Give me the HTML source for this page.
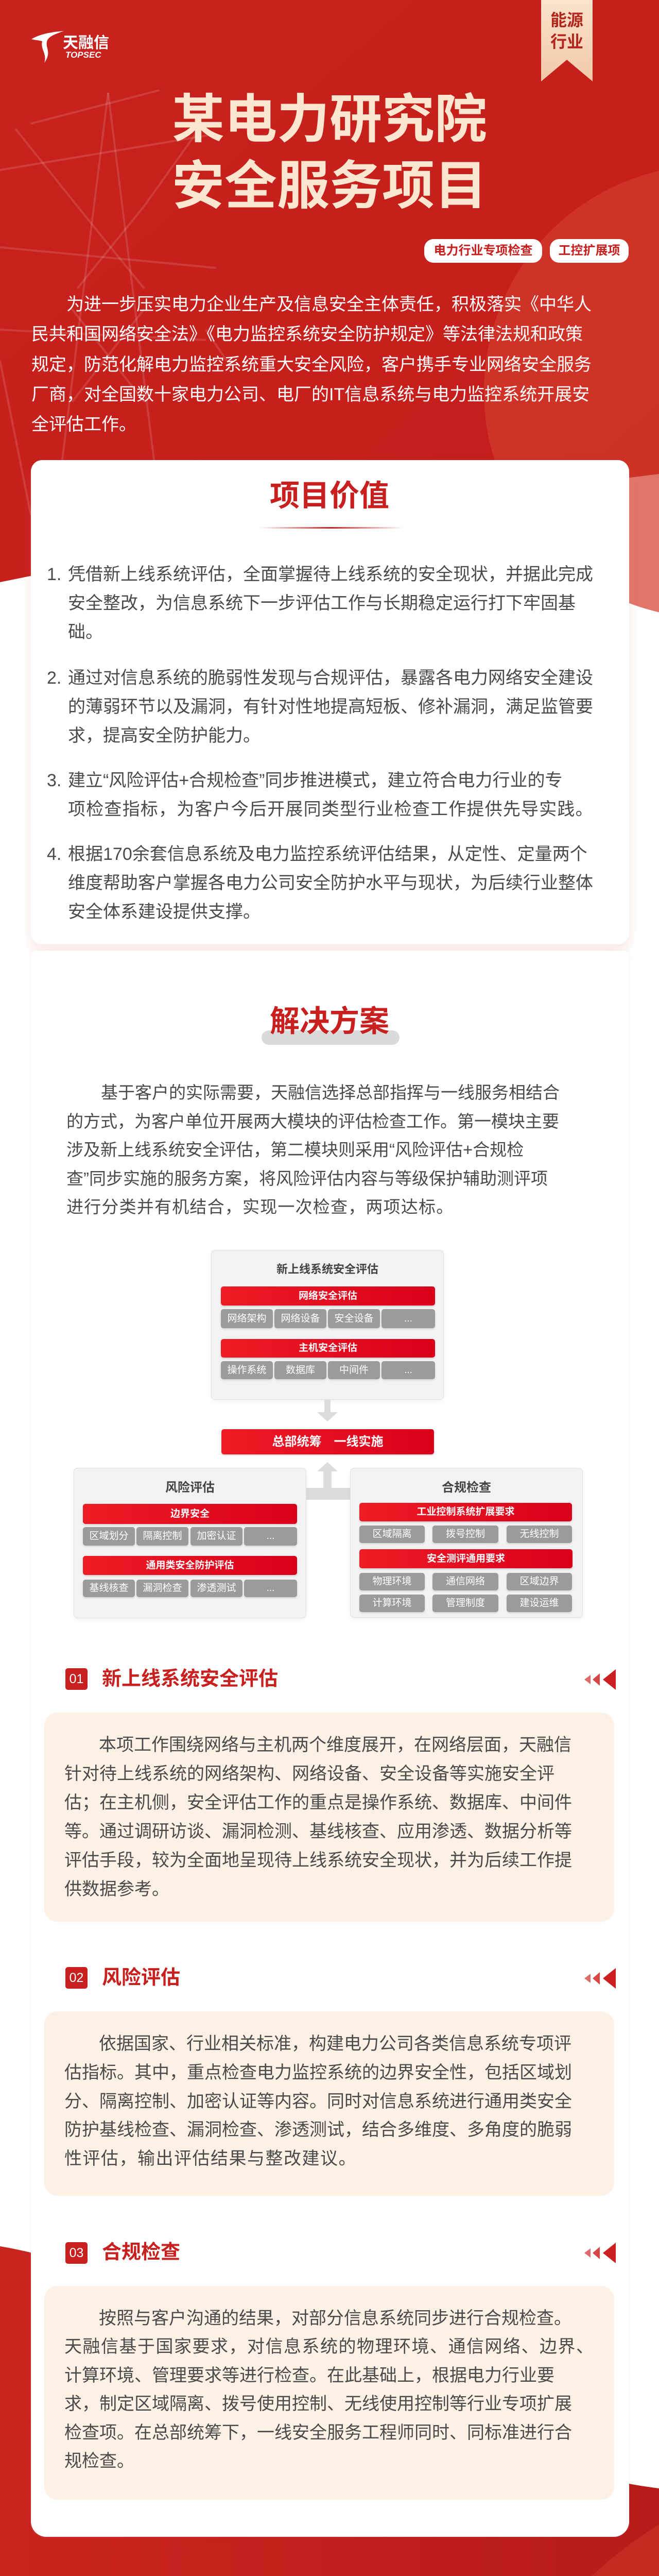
<!DOCTYPE html>
<html><head><meta charset="utf-8">
<style>
*{margin:0;padding:0;box-sizing:border-box}
body{width:1280px;height:5218px;position:relative;overflow:hidden;background:#fff;font-family:"Liberation Sans","Noto Sans CJK SC",sans-serif}
.a{position:absolute}
.ln{white-space:nowrap}
.j{text-align:justify;text-align-last:justify;white-space:nowrap;display:flex;justify-content:space-between}
.j span{display:inline-block}
.card{position:absolute;background:#fff;border-radius:22px}
.h2{font-weight:bold;color:#c8201f}
.badge{position:absolute;width:43px;height:42px;background:#c8201f;border-radius:5px;color:#fff;font-size:25px;text-align:center;line-height:42px}
.st{position:absolute;left:198px;font-size:38px;font-weight:bold;color:#c8201f;line-height:50px}
.box{position:absolute;left:86px;width:1107px;background:#fdf0e5;border-radius:26px}
.txt{position:absolute;left:125px;width:1024px;font-size:34px;color:#4a4a4a}
.dg{position:absolute;background:#f2f2f2;border:1px solid #e2e2e2;border-radius:8px;box-shadow:0 3px 8px rgba(0,0,0,0.06)}
.dt{position:absolute;font-size:22px;font-weight:bold;color:#444;text-align:center}
.rb{position:absolute;background:linear-gradient(90deg,#ee1c25,#d9001b);border-radius:5px;color:#fff;font-size:19px;font-weight:bold;text-align:center;box-shadow:0 2px 3px rgba(0,0,0,0.15)}
.gb{position:absolute;background:#9b9b9b;border-radius:5px;color:#fff;font-size:19px;text-align:center;box-shadow:0 2px 3px rgba(0,0,0,0.12)}
</style></head><body>

<svg class="a" style="left:0;top:0" width="1280" height="5218">
<defs>
<linearGradient id="rg" x1="0" y1="0" x2="1" y2="1"><stop offset="0" stop-color="#c8221e"/><stop offset="1" stop-color="#c41d1b"/></linearGradient>
<linearGradient id="rg2" x1="0" y1="0" x2="1" y2="0"><stop offset="0" stop-color="#c9251f"/><stop offset="1" stop-color="#b81b19"/></linearGradient>
</defs>
<polygon points="0,0 1280,0 1280,920 640,1000 0,1130" fill="url(#rg)"/>
<circle cx="1380" cy="760" r="440" fill="#d33a2b" opacity="0.7"/>
<g stroke="#ffffff" stroke-opacity="0.13" stroke-width="4" fill="none">
<line x1="210" y1="180" x2="120" y2="900"/><line x1="210" y1="180" x2="300" y2="900"/>
<line x1="60" y1="240" x2="310" y2="175"/><line x1="0" y1="330" x2="420" y2="260"/>
<line x1="0" y1="480" x2="420" y2="520"/><line x1="0" y1="640" x2="400" y2="660"/>
<line x1="150" y1="400" x2="280" y2="560"/><line x1="280" y1="400" x2="150" y2="560"/>
<line x1="140" y1="600" x2="280" y2="780"/><line x1="280" y1="600" x2="140" y2="780"/>
<line x1="30" y1="250" x2="150" y2="400"/><line x1="380" y1="260" x2="280" y2="400"/>
<line x1="0" y1="700" x2="60" y2="1000"/><line x1="400" y1="640" x2="440" y2="700"/>
</g>
<path d="M0,4360 C120,4380 300,4440 520,4560 C760,4690 1050,4800 1280,4830 L1280,5218 L0,5218 Z" fill="url(#rg2)"/>
<path d="M1280,4900 C1150,4980 1040,5100 990,5218 L1280,5218 Z" fill="#d0382b" opacity="0.5"/>
</svg>

<svg class="a" style="left:56px;top:56px" width="75" height="70"><path d="M5,20 C25,8 50,6 68,4 C52,10 40,14 36,22 C30,36 46,44 30,66 C36,48 22,40 26,24 C20,22 12,22 5,20 Z" fill="#fff"/></svg>
<div class="a" style="left:122px;top:66px;font-size:30px;font-weight:bold;color:#fff;line-height:36px">天融信</div>
<div class="a" style="left:127px;top:97px;font-size:17px;font-weight:bold;font-style:italic;color:#fff;line-height:20px">TOPSEC</div>

<svg class="a" style="left:1051px;top:0" width="100" height="160"><defs><linearGradient id="bg" x1="0" y1="0" x2="0" y2="1"><stop offset="0" stop-color="#fbe3cc"/><stop offset="1" stop-color="#f2c9a8"/></linearGradient></defs><polygon points="0,0 100,0 100,158 50,116 0,158" fill="url(#bg)"/></svg>
<div class="a" style="left:1051px;top:18px;width:100px;text-align:center;font-size:32px;font-weight:bold;color:#b3261e;line-height:42px">能源<br>行业</div>

<div class="a" style="left:0;top:168px;width:1280px;text-align:center;font-size:102px;font-weight:bold;color:#fde6cf;line-height:129px">某电力研究院<br>安全服务项目</div>

<div class="a" style="left:824px;top:464px;width:229px;height:46px;background:#fff;border-radius:18px;color:#c8201f;font-size:24px;font-weight:bold;text-align:center;line-height:46px">电力行业专项检查</div>
<div class="a" style="left:1068px;top:464px;width:153px;height:46px;background:#fff;border-radius:18px;color:#c8201f;font-size:24px;font-weight:bold;text-align:center;line-height:46px">工控扩展项</div>

<div class="a" style="left:61px;top:562px;width:1159px;font-size:34px;color:#fff;line-height:58.25px">
<div class="j" style="padding-left:68px">为进一步压实电力企业生产及信息安全主体责任，积极落实《中华人</div>
<div class="j">民共和国网络安全法》《电力监控系统安全防护规定》等法律法规和政策</div>
<div class="j">规定，防范化解电力监控系统重大安全风险，客户携手专业网络安全服务</div>
<div class="j">厂商，对全国数十家电力公司、电厂的IT信息系统与电力监控系统开展安</div>
<div class="ln">全评估工作。</div>
</div>

<div class="card" style="left:60px;top:893px;width:1162px;height:940px;box-shadow:0 14px 24px rgba(220,120,110,0.18)"></div>
<div class="a h2" style="left:0;top:925px;width:1280px;text-align:center;font-size:58px;line-height:76px">项目价值</div>
<div class="a" style="left:502px;top:1023px;width:282px;height:3px;background:linear-gradient(90deg,rgba(200,32,31,0),#c8201f 50%,rgba(200,32,31,0))"></div>

<div class="a" style="left:91px;width:1094px;font-size:34px;color:#4a4a4a;line-height:56px;top:1087px">
<div class="a" style="left:0;top:0">1.</div>
<div class="a" style="left:41px;top:0;width:1053px"><div class="j">凭借新上线系统评估，全面掌握待上线系统的安全现状，并据此完成</div><div class="j">安全整改，为信息系统下一步评估工作与长期稳定运行打下牢固基</div><div class="ln">础。</div></div>
</div>
<div class="a" style="left:91px;width:1094px;font-size:34px;color:#4a4a4a;line-height:56px;top:1288px">
<div class="a" style="left:0;top:0">2.</div>
<div class="a" style="left:41px;top:0;width:1053px"><div class="j">通过对信息系统的脆弱性发现与合规评估，暴露各电力网络安全建设</div><div class="j">的薄弱环节以及漏洞，有针对性地提高短板、修补漏洞，满足监管要</div><div class="ln">求，提高安全防护能力。</div></div>
</div>
<div class="a" style="left:91px;width:1094px;font-size:34px;color:#4a4a4a;line-height:56px;top:1487px">
<div class="a" style="left:0;top:0">3.</div>
<div class="a" style="left:41px;top:0;width:1053px"><div class="j">建立“风险评估+合规检查”同步推进模式，建立符合电力行业的专</div><div class="ln" style="letter-spacing:1.2px">项检查指标，为客户今后开展同类型行业检查工作提供先导实践。</div></div>
</div>
<div class="a" style="left:91px;width:1094px;font-size:34px;color:#4a4a4a;line-height:56px;top:1630px">
<div class="a" style="left:0;top:0">4.</div>
<div class="a" style="left:41px;top:0;width:1053px"><div class="j">根据170余套信息系统及电力监控系统评估结果，从定性、定量两个</div><div class="j">维度帮助客户掌握各电力公司安全防护水平与现状，为后续行业整体</div><div class="ln">安全体系建设提供支撑。</div></div>
</div>

<div class="card" style="left:60px;top:1845px;width:1162px;height:3079px;border-radius:10px 10px 30px 30px;box-shadow:0 0 6px rgba(230,150,140,0.15)"></div>
<div class="a" style="left:508px;top:2000px;width:268px;height:28px;background:#dadada;border-radius:14px"></div>
<div class="a h2" style="left:0;top:1948px;width:1280px;text-align:center;font-size:58px;line-height:70px">解决方案</div>

<div class="a" style="left:129px;top:2093px;width:1022px;font-size:33px;color:#4a4a4a;line-height:55.5px">
<div class="j" style="padding-left:67px">基于客户的实际需要，天融信选择总部指挥与一线服务相结合</div>
<div class="j">的方式，为客户单位开展两大模块的评估检查工作。第一模块主要</div>
<div class="j">涉及新上线系统安全评估，第二模块则采用“风险评估+合规检</div>
<div class="j">查”同步实施的服务方案，将风险评估内容与等级保护辅助测评项</div>
<div class="ln" style="letter-spacing:1.2px">进行分类并有机结合，实现一次检查，两项达标。</div>
</div>

<div class="dg" style="left:410px;top:2426px;width:452px;height:291px"></div>
<div class="dt" style="left:410px;top:2450px;width:452px;line-height:28px">新上线系统安全评估</div>
<div class="rb" style="left:429px;top:2497px;width:416px;height:37px;line-height:37px">网络安全评估</div>
<div class="gb" style="left:429px;top:2541px;width:101px;height:37px;line-height:37px">网络架构</div>
<div class="gb" style="left:533px;top:2541px;width:101px;height:37px;line-height:37px">网络设备</div>
<div class="gb" style="left:637px;top:2541px;width:101px;height:37px;line-height:37px">安全设备</div>
<div class="gb" style="left:741px;top:2541px;width:104px;height:37px;line-height:37px">...</div>
<div class="rb" style="left:429px;top:2599px;width:416px;height:36px;line-height:36px">主机安全评估</div>
<div class="gb" style="left:429px;top:2642px;width:101px;height:35px;line-height:35px">操作系统</div>
<div class="gb" style="left:533px;top:2642px;width:101px;height:35px;line-height:35px">数据库</div>
<div class="gb" style="left:637px;top:2642px;width:101px;height:35px;line-height:35px">中间件</div>
<div class="gb" style="left:741px;top:2642px;width:104px;height:35px;line-height:35px">...</div>

<svg class="a" style="left:600px;top:2717px" width="72" height="44"><polygon points="30,0 42,0 42,24 56,24 36,42 16,24 30,24" fill="#dcdcdc"/></svg>
<div class="rb" style="left:430px;top:2774px;width:413px;height:49px;line-height:49px;font-size:24px">总部统筹　一线实施</div>
<svg class="a" style="left:590px;top:2836px" width="95" height="80"><polygon points="46,2 66,20 54,20 54,52 94,52 94,75 0,75 0,52 38,52 38,20 26,20" fill="#dcdcdc"/></svg>

<div class="dg" style="left:143px;top:2849px;width:452px;height:292px"></div>
<div class="dt" style="left:143px;top:2873px;width:452px;line-height:30px;font-size:24px">风险评估</div>
<div class="rb" style="left:161px;top:2919px;width:416px;height:39px;line-height:39px">边界安全</div>
<div class="gb" style="left:161px;top:2964px;width:101px;height:36px;line-height:36px">区域划分</div>
<div class="gb" style="left:265px;top:2964px;width:101px;height:36px;line-height:36px">隔离控制</div>
<div class="gb" style="left:370px;top:2964px;width:101px;height:36px;line-height:36px">加密认证</div>
<div class="gb" style="left:474px;top:2964px;width:103px;height:36px;line-height:36px">...</div>
<div class="rb" style="left:161px;top:3020px;width:416px;height:37px;line-height:37px">通用类安全防护评估</div>
<div class="gb" style="left:161px;top:3066px;width:101px;height:34px;line-height:34px">基线核查</div>
<div class="gb" style="left:265px;top:3066px;width:101px;height:34px;line-height:34px">漏洞检查</div>
<div class="gb" style="left:370px;top:3066px;width:101px;height:34px;line-height:34px">渗透测试</div>
<div class="gb" style="left:474px;top:3066px;width:103px;height:34px;line-height:34px">...</div>

<div class="dg" style="left:680px;top:2849px;width:452px;height:291px"></div>
<div class="dt" style="left:680px;top:2873px;width:452px;line-height:30px;font-size:24px">合规检查</div>
<div class="rb" style="left:698px;top:2917px;width:413px;height:36px;line-height:36px">工业控制系统扩展要求</div>
<div class="gb" style="left:698px;top:2961px;width:127px;height:34px;line-height:34px">区域隔离</div>
<div class="gb" style="left:840px;top:2961px;width:128px;height:34px;line-height:34px">拨号控制</div>
<div class="gb" style="left:984px;top:2961px;width:127px;height:34px;line-height:34px">无线控制</div>
<div class="rb" style="left:698px;top:3007px;width:414px;height:37px;line-height:37px">安全测评通用要求</div>
<div class="gb" style="left:698px;top:3053px;width:127px;height:34px;line-height:34px">物理环境</div>
<div class="gb" style="left:840px;top:3053px;width:128px;height:34px;line-height:34px">通信网络</div>
<div class="gb" style="left:984px;top:3053px;width:127px;height:34px;line-height:34px">区域边界</div>
<div class="gb" style="left:698px;top:3095px;width:127px;height:34px;line-height:34px">计算环境</div>
<div class="gb" style="left:840px;top:3095px;width:128px;height:34px;line-height:34px">管理制度</div>
<div class="gb" style="left:984px;top:3095px;width:127px;height:34px;line-height:34px">建设运维</div>

<div class="badge" style="left:127px;top:3238px">01</div>
<div class="st" style="top:3234px">新上线系统安全评估</div>
<svg class="a" style="left:1133px;top:3240px" width="66" height="40"><polygon points="2,20 14,11 14,29" fill="#e06b6b"/><polygon points="18,20 32,8 32,32" fill="#d84545"/><polygon points="38,20 63,0 63,40" fill="#cc1f22"/></svg>
<div class="box" style="top:3324px;height:406px"></div>
<div class="txt" style="top:3359px;line-height:56px">
<div class="j" style="padding-left:67px">本项工作围绕网络与主机两个维度展开，在网络层面，天融信</div>
<div class="j">针对待上线系统的网络架构、网络设备、安全设备等实施安全评</div>
<div class="j">估；在主机侧，安全评估工作的重点是操作系统、数据库、中间件</div>
<div class="j">等。通过调研访谈、漏洞检测、基线核查、应用渗透、数据分析等</div>
<div class="j">评估手段，较为全面地呈现待上线系统安全现状，并为后续工作提</div>
<div class="ln">供数据参考。</div>
</div>

<div class="badge" style="left:127px;top:3818px">02</div>
<div class="st" style="top:3814px">风险评估</div>
<svg class="a" style="left:1133px;top:3820px" width="66" height="40"><polygon points="2,20 14,11 14,29" fill="#e06b6b"/><polygon points="18,20 32,8 32,32" fill="#d84545"/><polygon points="38,20 63,0 63,40" fill="#cc1f22"/></svg>
<div class="box" style="top:3904px;height:358px"></div>
<div class="txt" style="top:3940px;line-height:55.8px">
<div class="j" style="padding-left:67px">依据国家、行业相关标准，构建电力公司各类信息系统专项评</div>
<div class="j">估指标。其中，重点检查电力监控系统的边界安全性，包括区域划</div>
<div class="j">分、隔离控制、加密认证等内容。同时对信息系统进行通用类安全</div>
<div class="j">防护基线检查、漏洞检查、渗透测试，结合多维度、多角度的脆弱</div>
<div class="ln" style="letter-spacing:1.5px">性评估，输出评估结果与整改建议。</div>
</div>

<div class="badge" style="left:127px;top:4352px">03</div>
<div class="st" style="top:4347px">合规检查</div>
<svg class="a" style="left:1133px;top:4353px" width="66" height="40"><polygon points="2,20 14,11 14,29" fill="#e06b6b"/><polygon points="18,20 32,8 32,32" fill="#d84545"/><polygon points="38,20 63,0 63,40" fill="#cc1f22"/></svg>
<div class="box" style="top:4437px;height:415px"></div>
<div class="txt" style="top:4473px;line-height:55.4px">
<div class="j" style="padding-left:67px">按照与客户沟通的结果，对部分信息系统同步进行合规检查。</div>
<div class="ln" style="letter-spacing:1.5px">天融信基于国家要求，对信息系统的物理环境、通信网络、边界、</div>
<div class="j">计算环境、管理要求等进行检查。在此基础上，根据电力行业要</div>
<div class="j">求，制定区域隔离、拨号使用控制、无线使用控制等行业专项扩展</div>
<div class="j">检查项。在总部统筹下，一线安全服务工程师同时、同标准进行合</div>
<div class="ln">规检查。</div>
</div>

<div class="a" style="left:431px;top:5042px;font-size:30px;color:#fff;letter-spacing:8px;line-height:40px">天融信安全服务产品线</div>
<svg class="a" style="left:990px;top:5012px" width="94" height="97"><rect width="94" height="97" fill="#fff"/><g fill="#222"><rect x="6" y="6" width="22" height="22"/><rect x="66" y="6" width="22" height="22"/><rect x="6" y="69" width="22" height="22"/><rect x="34" y="8" width="6" height="10"/><rect x="44" y="14" width="10" height="6"/><rect x="34" y="30" width="14" height="6"/><rect x="54" y="34" width="8" height="12"/><rect x="10" y="40" width="12" height="6"/><rect x="26" y="50" width="8" height="14"/><rect x="66" y="46" width="16" height="6"/><rect x="72" y="60" width="6" height="14"/><rect x="40" y="72" width="12" height="8"/><rect x="58" y="80" width="8" height="10"/><rect x="78" y="82" width="10" height="8"/><rect x="44" y="56" width="8" height="6"/></g><g fill="#fff"><rect x="10" y="10" width="14" height="14"/><rect x="70" y="10" width="14" height="14"/><rect x="10" y="73" width="14" height="14"/></g><g fill="#222"><rect x="13" y="13" width="8" height="8"/><rect x="73" y="13" width="8" height="8"/><rect x="13" y="76" width="8" height="8"/></g><rect x="38" y="40" width="18" height="16" fill="#fff"/></svg>
<svg class="a" style="left:1125px;top:5012px" width="94" height="97"><rect width="94" height="97" fill="#fff"/><g fill="#222"><rect x="6" y="6" width="22" height="22"/><rect x="66" y="6" width="22" height="22"/><rect x="6" y="69" width="22" height="22"/><rect x="36" y="8" width="8" height="8"/><rect x="48" y="12" width="8" height="10"/><rect x="30" y="32" width="10" height="6"/><rect x="58" y="30" width="8" height="14"/><rect x="12" y="42" width="10" height="8"/><rect x="28" y="52" width="8" height="12"/><rect x="68" y="48" width="14" height="6"/><rect x="74" y="62" width="6" height="10"/><rect x="42" y="70" width="10" height="10"/><rect x="56" y="82" width="10" height="8"/><rect x="78" y="80" width="10" height="8"/></g><g fill="#fff"><rect x="10" y="10" width="14" height="14"/><rect x="70" y="10" width="14" height="14"/><rect x="10" y="73" width="14" height="14"/></g><g fill="#222"><rect x="13" y="13" width="8" height="8"/><rect x="73" y="13" width="8" height="8"/><rect x="13" y="76" width="8" height="8"/></g><rect x="38" y="40" width="18" height="16" fill="#fff"/></svg>
<div class="a" style="left:972px;top:5120px;width:130px;text-align:center;font-size:19px;color:#f7d3cc;line-height:26px">天融信科技集团</div>
<div class="a" style="left:1107px;top:5120px;width:130px;text-align:center;font-size:19px;color:#f7d3cc;line-height:26px">天融信安全服务</div>

</body></html>
